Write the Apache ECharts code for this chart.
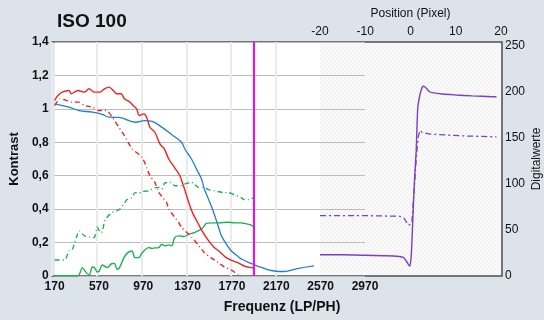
<!DOCTYPE html>
<html><head><meta charset="utf-8">
<script src="https://cdn.jsdelivr.net/npm/echarts@6/dist/echarts.min.js"></script>
<style>html,body{margin:0;padding:0;background:#dce3eb;}#c{width:544px;height:320px;}</style>
</head><body><div id="c"></div>
<script>
// ---- data ----
const freqTicks = [170, 570, 970, 1370, 1770, 2170, 2570, 2970];
const nyquist = 1968;
const redSolid = [[170,1.05],[200,1.08],[240,1.10],[300,1.11],[320,1.09],[350,1.10],[380,1.11],[440,1.10],[480,1.12],[530,1.10],[580,1.10],[620,1.12],[660,1.13],[700,1.11],[730,1.09],[770,1.09],[800,1.06],[850,1.04],[880,1.02],[910,1.00],[935,0.96],[975,0.97],[1000,0.95],[1030,0.89],[1075,0.86],[1120,0.79],[1160,0.76],[1200,0.70],[1262,0.64],[1300,0.60],[1342,0.52],[1380,0.44],[1420,0.37],[1460,0.32],[1500,0.27],[1560,0.21],[1610,0.17],[1660,0.145],[1718,0.11],[1780,0.09],[1826,0.078],[1880,0.06],[1942,0.05],[1965,0.048]];
const redDash = [[170,1.02],[220,1.06],[280,1.05],[330,1.04],[390,1.04],[440,1.02],[510,1.01],[570,0.99],[640,0.99],[690,0.95],[750,0.89],[800,0.84],[870,0.76],[960,0.71],[1030,0.60],[1075,0.56],[1110,0.50],[1180,0.44],[1200,0.40],[1290,0.32],[1316,0.29],[1405,0.234],[1460,0.19],[1521,0.14],[1580,0.11],[1647,0.08],[1700,0.055],[1763,0.036],[1830,0.006],[1860,0]];
const blue = [[170,1.03],[300,1.01],[390,0.99],[510,0.98],[600,0.967],[660,0.95],[750,0.949],[900,0.92],[985,0.93],[1050,0.925],[1140,0.889],[1225,0.847],[1315,0.80],[1345,0.76],[1405,0.70],[1450,0.64],[1495,0.58],[1521,0.52],[1560,0.457],[1605,0.38],[1655,0.28],[1675,0.24],[1736,0.174],[1765,0.15],[1830,0.114],[1860,0.10],[1942,0.075],[2005,0.058],[2060,0.046],[2100,0.036],[2150,0.03],[2240,0.027],[2290,0.032],[2360,0.044],[2510,0.06]];
const greenSolid = [[170,0],[380,0],[400,0.02],[420,0.05],[450,0.025],[483,0.006],[510,0.054],[530,0.05],[555,0.024],[573,0.03],[600,0.066],[644,0.05],[690,0.075],[710,0.075],[734,0.04],[752,0.045],[796,0.11],[830,0.14],[868,0.15],[895,0.11],[931,0.11],[958,0.138],[1020,0.17],[1050,0.165],[1074,0.168],[1110,0.17],[1137,0.19],[1165,0.18],[1200,0.186],[1226,0.18],[1253,0.23],[1290,0.24],[1340,0.236],[1380,0.25],[1430,0.26],[1494,0.28],[1521,0.30],[1540,0.315],[1611,0.318],[1650,0.318],[1736,0.322],[1790,0.318],[1850,0.318],[1880,0.315],[1940,0.306],[1965,0.294]];
const greenDash = [[170,0.096],[260,0.096],[304,0.156],[331,0.16],[394,0.27],[440,0.24],[483,0.234],[528,0.23],[555,0.294],[582,0.26],[600,0.264],[626,0.337],[689,0.38],[752,0.397],[805,0.44],[823,0.457],[868,0.47],[895,0.499],[931,0.495],[958,0.505],[1020,0.51],[1074,0.529],[1110,0.53],[1137,0.52],[1163,0.556],[1226,0.56],[1253,0.54],[1315,0.54],[1342,0.55],[1405,0.56],[1432,0.55],[1468,0.53],[1521,0.53],[1557,0.517],[1611,0.51],[1700,0.499],[1736,0.499],[1790,0.487],[1852,0.469],[1879,0.457],[1924,0.457],[1965,0.469]];
const edgeSolid = [[-20,23],[-15,23],[-10,22.5],[-6,22],[-3,21.5],[-1.5,20],[-0.9,16],[-0.4,12],[-0.1,11],[0.2,25],[0.5,60],[0.88,104],[1.25,135],[1.6,182],[2.1,197],[2.6,205],[2.95,206],[3.45,204],[4.2,200],[4.8,199],[7,197.5],[10,196.5],[13.6,195.5],[18,194.6],[19,194.5]];
const edgeDash = [[-20,65.5],[-10,65.5],[-4,65],[-2.5,65],[-1.5,63],[-0.4,55],[0.3,58],[0.6,80],[0.85,96],[1.3,130],[1.7,151],[2.1,158],[2.7,155.5],[4.4,154],[8,153],[12,152],[16,151.5],[19,151]];
const posTicks = [-20, -10, 0, 10, 20];
const digitTicks = [0, 50, 100, 150, 200, 250];

// hatch pattern
const pc = document.createElement('canvas');
pc.width = 4; pc.height = 4;
const px = pc.getContext('2d');
px.fillStyle = '#fafafa'; px.fillRect(0,0,4,4);
px.strokeStyle = '#ededed'; px.lineWidth = 1;
px.beginPath(); px.moveTo(0,4); px.lineTo(4,0); px.stroke();

const bold = {fontFamily:'Liberation Sans', fontWeight:'bold', fontSize:12, color:'#111'};
const norm = {fontFamily:'Liberation Sans', fontSize:12, color:'#111'};
const hidden = {axisLine:{show:false}, axisTick:{show:false}, axisLabel:{show:false}, splitLine:{show:false}};

const chart = echarts.init(document.getElementById('c'));
chart.setOption({
  animation:false,
  backgroundColor:'#dce3eb',
  title:{text:'ISO 100', left:52, top:7, textStyle:{fontFamily:'Liberation Sans', fontWeight:'bold', fontSize:19, color:'#111'}},
  grid:[
    {left:52, top:42, width:313, bottom:44, show:true, backgroundColor:'#fff', borderWidth:0},
    {left:320, top:42, right:42, bottom:44, show:true, backgroundColor:{image:pc, repeat:'repeat'}, borderWidth:0},
    {left:52, top:42, width:224, bottom:44},
    {left:52, top:42, right:42, bottom:44, show:true, backgroundColor:'transparent', borderColor:'#505050', borderWidth:1.5}
  ],
  xAxis:[
    {gridIndex:0, type:'value', min:freqTicks[0], max:freqTicks[freqTicks.length-1], interval:400,
     axisLine:{show:false}, axisTick:{show:false}, splitLine:{show:false},
     axisLabel:Object.assign({margin:5, formatter:v=>String(v)}, bold)},
    {gridIndex:1, type:'value', position:'top', min:posTicks[0], max:posTicks[posTicks.length-1], interval:10,
     axisLine:{show:false}, axisTick:{show:false}, splitLine:{show:false},
     axisLabel:Object.assign({margin:4}, norm),
     name:'Position (Pixel)', nameLocation:'middle', nameGap:22, nameTextStyle:norm},
    {gridIndex:2, type:'value', min:170, max:2170, interval:400,
     axisLine:{show:false}, axisTick:{show:false}, axisLabel:{show:false},
     splitLine:{show:true, lineStyle:{color:'#ebebeb', width:2}}},
    Object.assign({gridIndex:3, type:'value', min:0, max:1, name:'Frequenz (LP/PH)', nameLocation:'middle', nameGap:24,
     nameTextStyle:{fontFamily:'Liberation Sans', fontWeight:'bold', fontSize:14, color:'#111', padding:[0,0,0,10]}}, hidden)
  ],
  yAxis:[
    {gridIndex:0, type:'value', min:0, max:1.4, interval:0.2,
     axisLine:{show:false}, axisTick:{show:false},
     splitLine:{show:true, lineStyle:{color:'#bcbcbc', width:1.2}},
     axisLabel:Object.assign({margin:6, formatter:v=>String(+v.toFixed(1)).replace('.', ',')}, bold),
     name:'Kontrast', nameLocation:'middle', nameGap:30, nameRotate:90,
     nameTextStyle:{fontFamily:'Liberation Sans', fontWeight:'bold', fontSize:13, color:'#111'}},
    {gridIndex:1, type:'value', position:'right', min:digitTicks[0], max:254, interval:50,
     axisLine:{show:false}, axisTick:{show:false}, splitLine:{show:false},
     axisLabel:Object.assign({margin:4, showMaxLabel:false}, norm),
     name:'Digitalwerte', nameLocation:'middle', nameGap:30, nameRotate:90, nameTextStyle:norm},
    Object.assign({gridIndex:2, type:'value', min:0, max:1}, hidden),
    Object.assign({gridIndex:3, type:'value', min:0, max:1}, hidden)
  ],
  series:[
    {type:'line', xAxisIndex:0, yAxisIndex:0, data:greenDash, showSymbol:false, smooth:0.2,
     lineStyle:{color:'#1fb050', width:1.4, type:[5,3,1,3]}},
    {type:'line', xAxisIndex:0, yAxisIndex:0, data:greenSolid, showSymbol:false, smooth:0.3,
     lineStyle:{color:'#1fb050', width:1.4}},
    {type:'line', xAxisIndex:0, yAxisIndex:0, data:redDash, showSymbol:false, smooth:0.2,
     lineStyle:{color:'#f52020', width:1.4, type:[5,3,1,3]}},
    {type:'line', xAxisIndex:0, yAxisIndex:0, data:redSolid, showSymbol:false, smooth:0.3,
     lineStyle:{color:'#f52020', width:1.4}},
    {type:'line', xAxisIndex:0, yAxisIndex:0, data:blue, showSymbol:false, smooth:0.4,
     lineStyle:{color:'#1f7fd0', width:1.3},
     markLine:{silent:true, symbol:['none','none'], label:{show:false},
       lineStyle:{color:'#ff00ff', width:2, type:'solid'}, data:[{xAxis:nyquist}]}},
    {type:'line', xAxisIndex:1, yAxisIndex:1, data:edgeDash, showSymbol:false,
     lineStyle:{color:'#7a40c4', width:1.3, type:[6,3,2,3]}},
    {type:'line', xAxisIndex:1, yAxisIndex:1, data:edgeSolid, showSymbol:false, smooth:0.2,
     lineStyle:{color:'#7a40c4', width:1.4}}
  ]
});
</script></body></html>
